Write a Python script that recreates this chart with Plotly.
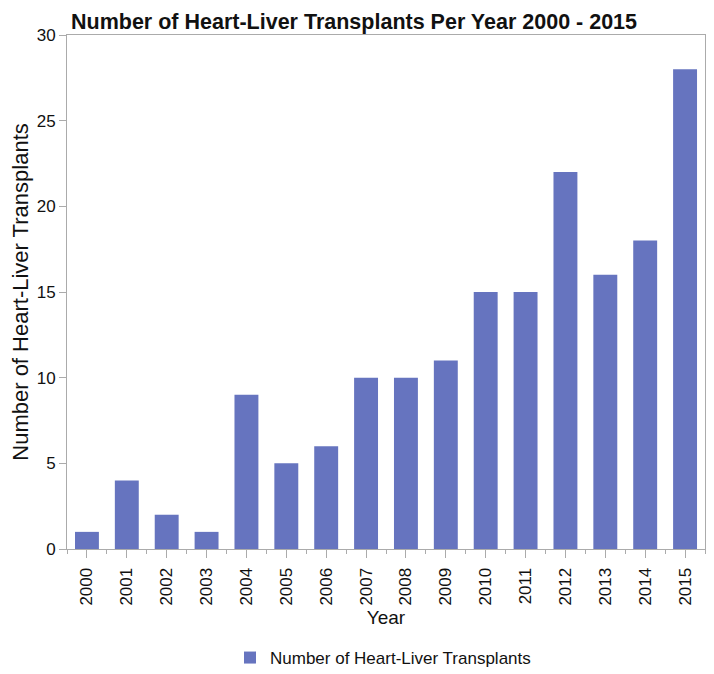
import plotly.graph_objects as go

years = ["2000", "2001", "2002", "2003", "2004", "2005", "2006", "2007",
         "2008", "2009", "2010", "2011", "2012", "2013", "2014", "2015"]
transplants = [1, 4, 2, 1, 9, 5, 6, 10, 10, 11, 15, 15, 22, 16, 18, 28]
y_ticks = [0, 5, 10, 15, 20, 25, 30]

positions = list(range(len(years)))

FONT = "Liberation Sans, Arial, Helvetica, sans-serif"
BAR = "#6674BF"
AXIS = "#ABABAB"

# page body has an 8px default margin, so the figure is sized to fit the window
W, H = 706, 666

fig = go.Figure()
fig.add_trace(go.Bar(
    x=positions, y=transplants, width=0.6,
    marker=dict(color=BAR, line=dict(width=0)),
    name="Number of Heart-Liver Transplants",
    showlegend=True,
))

fig.update_layout(
    width=W, height=H,
    margin=dict(l=59, r=9, t=27, b=125, autoexpand=False),
    paper_bgcolor="white", plot_bgcolor="white",
    font=dict(family=FONT, color="#111111"),
    title=dict(text="<b>Number of Heart-Liver Transplants Per Year 2000 - 2015</b>",
               x=63 / W, xanchor="left", y=1 - 13 / H, yanchor="middle",
               font=dict(size=21.5, family=FONT, color="#111111")),
    showlegend=True,
    legend=dict(orientation="h", xref="container", yref="container",
                x=222 / W, xanchor="left", y=1 - 632 / H, yanchor="top",
                font=dict(size=17, family=FONT)),
    xaxis=dict(
        range=[-0.5, len(years) - 0.5], automargin=False,
        tickmode="array", tickvals=positions, ticktext=years,
        tickangle=-90, tickfont=dict(size=17),
        ticks="outside", ticklen=8, tickcolor=AXIS, tickwidth=1,
        ticklabelstandoff=3,
        minor=dict(tick0=0.5, dtick=1, ticks="outside", ticklen=4, tickcolor=AXIS),
        showline=True, linecolor=AXIS, linewidth=1, mirror=True,
        showgrid=False, zeroline=False,
        title=dict(text="Year", font=dict(size=19), standoff=6),
    ),
    yaxis=dict(
        range=[0, 30], tickmode="array", tickvals=y_ticks, automargin=False,
        tickfont=dict(size=17),
        ticks="outside", ticklen=7, tickcolor=AXIS, tickwidth=1,
        showline=True, linecolor=AXIS, linewidth=1, mirror=True,
        showgrid=False, zeroline=False,
        title=dict(text="Number of Heart-Liver Transplants", font=dict(size=22), standoff=2),
    ),
    bargap=0.4,
)

fig.write_html("out.html")
